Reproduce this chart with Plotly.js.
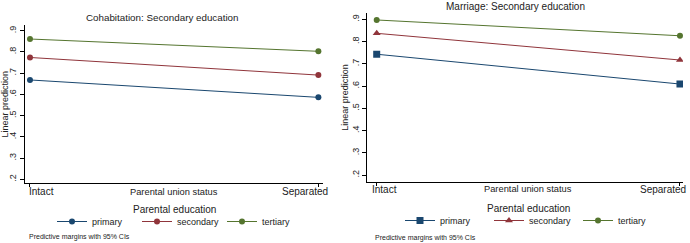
<!DOCTYPE html>
<html>
<head>
<meta charset="utf-8">
<script src="https://cdn.plot.ly/plotly-3.0.1.min.js"></script>
<style>html,body{margin:0;padding:0;background:#fff;}#chart{width:690px;height:243px;}</style>
</head>
<body>
<div id="chart"></div>
<script>
// ---- data ----
const categories = ['Intact', 'Separated'];
const xPositions = [0, 1];
const seriesNames = ['primary', 'secondary', 'tertiary'];
const cohabPrimary = [0.668, 0.586];
const cohabSecondary = [0.774, 0.691];
const cohabTertiary = [0.861, 0.803];
const marrPrimary = [0.743, 0.609];
const marrSecondary = [0.837, 0.717];
const marrTertiary = [0.897, 0.826];
const yTickVals = [0.2, 0.3, 0.4, 0.5, 0.6, 0.7, 0.8, 0.9];
const yTickText = ['.2', '.3', '.4', '.5', '.6', '.7', '.8', '.9'];
const panelTitles = ['Cohabitation: Secondary education', 'Marriage: Secondary education'];
const xTitle = 'Parental union status';
const yTitle = 'Linear prediction';
const legendTitle = 'Parental education';
const footnote = 'Predictive margins with 95% CIs';

// ---- styling ----
const colors = ['#1a476f', '#90353b', '#55752f'];
const FONT = 'Liberation Sans, Arial, sans-serif';
const W = 690, H = 243;
const px = v => v / W;
const py = v => (H - v) / H;

const cohab = [cohabPrimary, cohabSecondary, cohabTertiary];
const marr = [marrPrimary, marrSecondary, marrTertiary];
const rightSymbols = ['square', 'triangle-up', 'circle'];

const traces = [];
cohab.forEach((ys, i) => traces.push({
  x: xPositions, y: ys, xaxis: 'x', yaxis: 'y', name: seriesNames[i],
  type: 'scatter', mode: 'lines+markers', legend: 'legend',
  line: {color: colors[i], width: 1},
  marker: {color: colors[i], size: 6, symbol: 'circle'}
}));
marr.forEach((ys, i) => traces.push({
  x: xPositions, y: ys, xaxis: 'x2', yaxis: 'y2', name: seriesNames[i],
  type: 'scatter', mode: 'lines+markers', legend: 'legend2',
  line: {color: colors[i], width: 1},
  marker: {color: colors[i], size: rightSymbols[i] === 'circle' ? 6 : 7, symbol: rightSymbols[i]}
}));

function xAxis(domain, range) {
  return {
    domain: domain, range: range, showgrid: false, zeroline: false,
    showline: true, linecolor: '#000', linewidth: 1,
    tickvals: xPositions, ticks: 'outside', ticklen: 3, tickcolor: '#000',
    showticklabels: false, fixedrange: true
  };
}
function yAxis(domain, range, anchor, titleStandoff) {
  return {
    domain: domain, range: range, anchor: anchor, showgrid: false, zeroline: false,
    showline: true, linecolor: '#000', linewidth: 1,
    tickvals: yTickVals, ticktext: yTickText, tickangle: -90,
    ticks: 'outside', ticklen: 4, tickcolor: '#000',
    tickfont: {family: FONT, size: 9, color: '#222'},
    title: {text: yTitle, font: {family: FONT, size: 9, color: '#222'}, standoff: titleStandoff},
    automargin: false, fixedrange: true
  };
}

const annText = (text, x, y, size, extra) => Object.assign({
  text: text, xref: 'paper', yref: 'paper', x: x, y: y,
  xanchor: 'center', yanchor: 'middle', showarrow: false,
  font: {family: FONT, size: size, color: '#222'}
}, extra || {});

const annotations = [
  annText(panelTitles[0], px(162), py(17), 9.8),
  annText(panelTitles[1], px(515), py(6), 10),
  annText(xTitle, px(174), py(191.5), 9.3),
  annText(xTitle, px(528), py(189), 9.3),
  annText(legendTitle, px(174), py(209), 10),
  annText(legendTitle, px(528), py(208), 10),
  annText(footnote, px(27), py(237), 7, {xanchor: 'left'}),
  annText(footnote, px(373), py(237.5), 7, {xanchor: 'left'}),
  // category tick labels placed at the axis category positions
  {text: categories[0], xref: 'x', yref: 'paper', x: xPositions[0], y: py(191.5), xanchor: 'left', yanchor: 'middle', xshift: -3, showarrow: false, font: {family: FONT, size: 10, color: '#222'}},
  {text: categories[1], xref: 'x', yref: 'paper', x: xPositions[1], y: py(191.5), xanchor: 'right', yanchor: 'middle', xshift: 12, showarrow: false, font: {family: FONT, size: 10, color: '#222'}},
  {text: categories[0], xref: 'x2', yref: 'paper', x: xPositions[0], y: py(189), xanchor: 'left', yanchor: 'middle', xshift: -7, showarrow: false, font: {family: FONT, size: 10, color: '#222'}},
  {text: categories[1], xref: 'x2', yref: 'paper', x: xPositions[1], y: py(189), xanchor: 'right', yanchor: 'middle', xshift: 8, showarrow: false, font: {family: FONT, size: 10, color: '#222'}}
];

const legendBase = {
  orientation: 'h', xanchor: 'left', yanchor: 'middle',
  font: {family: FONT, size: 9, color: '#222'},
  bgcolor: 'rgba(0,0,0,0)', borderwidth: 0, itemclick: false, itemdoubleclick: false,
  tracegroupgap: 0
};

const layout = {
  width: W, height: H,
  margin: {l: 0, r: 0, t: 0, b: 0, pad: 0, autoexpand: false},
  paper_bgcolor: '#fff', plot_bgcolor: '#fff',
  showlegend: true,
  font: {family: FONT, color: '#222'},
  xaxis: xAxis([px(25), px(322.7)], [-0.0173, 1.015]),
  yaxis: yAxis([py(183.3), py(25)], [0.181, 0.927], 'x', 1),
  xaxis2: Object.assign(xAxis([px(367.3), px(683)], [-0.031, 1.01]), {anchor: 'y2'}),
  yaxis2: yAxis([py(181.7), py(13.3)], [0.17, 0.927], 'x2', 0),
  legend: Object.assign({}, legendBase, {x: px(52), y: py(221.5), entrywidth: 40}),
  legend2: Object.assign({}, legendBase, {x: px(400), y: py(220.5), entrywidth: 44}),
  annotations: annotations
};

Plotly.newPlot('chart', traces, layout, {staticPlot: true, displayModeBar: false});
</script>
</body>
</html>
